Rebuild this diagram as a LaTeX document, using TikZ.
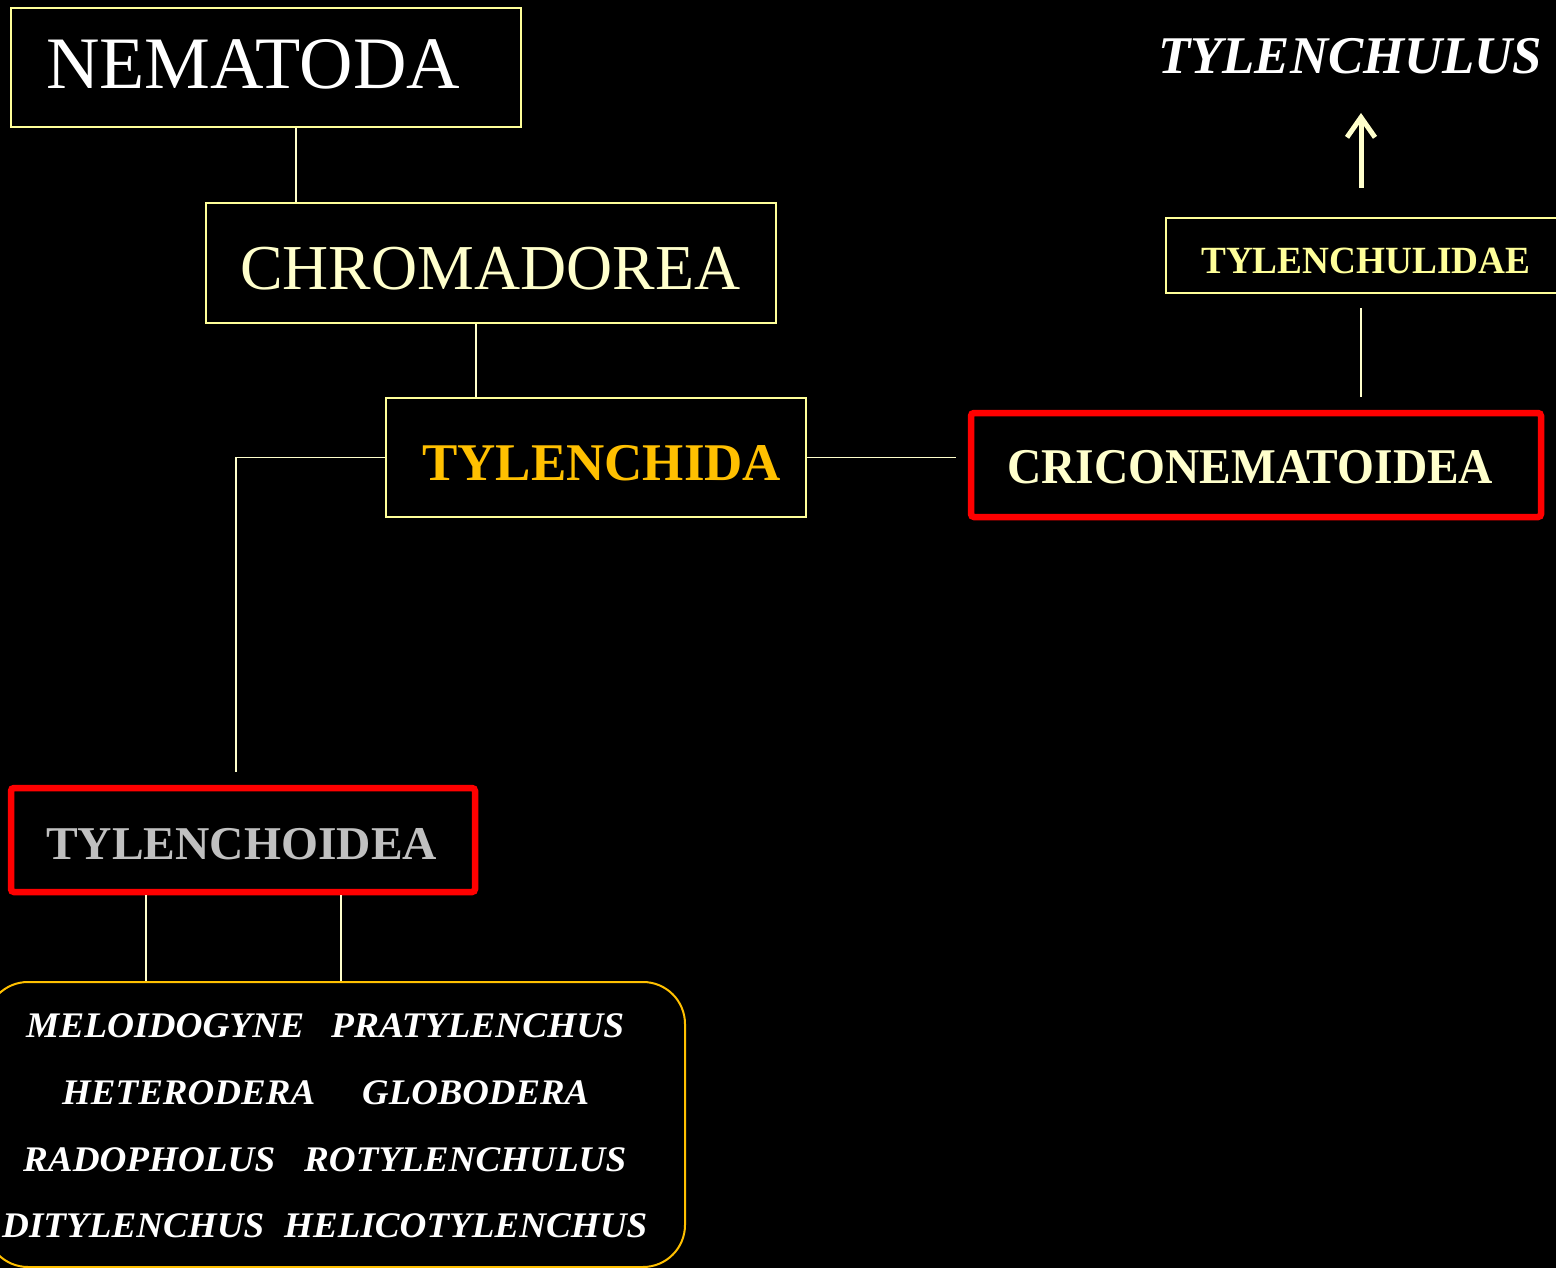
\documentclass[tikz,border=0pt]{standalone}
\usepackage{fontspec}
\setmainfont{Liberation Serif}
\usetikzlibrary{arrows.meta}
\definecolor{paley}{HTML}{FFFF99}
\definecolor{cream}{HTML}{FFFFCC}
\definecolor{gold}{HTML}{FFC000}
\definecolor{silver}{HTML}{C0C0C0}
\newcommand{\fw}[2]{\resizebox{#1pt}{\height}{#2}}
\begin{document}
\begin{tikzpicture}[x=1pt,y=-1pt,
  box/.style={draw=paley,line width=2pt,inner sep=0pt},
  redbox/.style={draw=red,line width=6.5pt,rounded corners=3pt,inner sep=0pt},
  lbl/.style={inner sep=0pt,anchor=base west},
  conn/.style={draw=cream,line width=1.8pt},
  genus/.style={lbl,text=white,font=\fontsize{36}{40}\selectfont\bfseries\itshape}]
\fill[black] (0,0) rectangle (1556,1268);
\useasboundingbox (0,0) rectangle (1556,1268);

% boxes
\node[box,minimum width=510pt,minimum height=119pt] (nem) at (266,67.5) {};
\node[box,minimum width=570pt,minimum height=120pt] (chr) at (491,263) {};
\node[box,minimum width=420pt,minimum height=119pt] (tyl) at (596,457.5) {};
\node[redbox,minimum width=570pt,minimum height=104pt] (cri) at (1256,465) {};
\node[box,minimum width=396pt,minimum height=75pt] (tul) at (1364,255.5) {};
\node[redbox,minimum width=464pt,minimum height=104pt] (tcd) at (243,840) {};
\node[draw=gold,line width=2pt,rounded corners=42pt,inner sep=0pt,
      minimum width=699pt,minimum height=285pt] (gen) at (335.5,1124.5) {};

% labels
\node[lbl,text=white,font=\fontsize{74}{80}\selectfont] (nemt) at (46,89) {\fw{414}{NEMATODA}};
\node[lbl,text=cream,font=\fontsize{64}{70}\selectfont] (chrt) at (240,289) {\fw{500}{CHROMADOREA}};
\node[lbl,text=gold,font=\fontsize{53}{60}\selectfont\bfseries] (tylt) at (422,480) {\fw{359}{TYLENCHIDA}};
\node[lbl,text=cream,font=\fontsize{50}{56}\selectfont\bfseries] (crit) at (1007,483) {\fw{486}{CRICONEMATOIDEA}};
\node[lbl,text=paley,font=\fontsize{38.5}{44}\selectfont\bfseries] (tult) at (1201,274) {\fw{329}{TYLENCHULIDAE}};
\node[lbl,text=white,font=\fontsize{53}{60}\selectfont\bfseries\itshape] (tus) at (1158,74) {\fw{384}{TYLENCHULUS}};
\node[lbl,text=silver,font=\fontsize{47}{52}\selectfont\bfseries] (tcdt) at (46,859) {\fw{391}{TYLENCHOIDEA}};

% genera
\node[genus] (g1) at (26,1037) {\fw{278}{MELOIDOGYNE}};
\node[genus] (g2) at (331,1037) {\fw{293}{PRATYLENCHUS}};
\node[genus] (g3) at (62,1104) {\fw{253}{HETERODERA}};
\node[genus] (g4) at (362,1104) {\fw{227}{GLOBODERA}};
\node[genus] (g5) at (23,1171) {\fw{252}{RADOPHOLUS}};
\node[genus] (g6) at (304,1171) {\fw{322}{ROTYLENCHULUS}};
\node[genus] (g7) at (2,1237) {\fw{262}{DITYLENCHUS}};
\node[genus] (g8) at (284,1237) {\fw{363}{HELICOTYLENCHUS}};

% helper coordinates
\coordinate (x1) at (296,0);
\coordinate (x2) at (476,0);
\coordinate (lc) at (236,772);
\coordinate (rc) at (956,0);
\coordinate (u1) at (1361,308);
\coordinate (u2) at (1361,397);
\coordinate (a1) at (1361,188);
\coordinate (a2) at (1361,113);
\coordinate (d1) at (146,0);
\coordinate (d2) at (341,0);

% connectors
\draw[conn] (nem.south -| x1) -- (chr.north -| x1);
\draw[conn] (chr.south -| x2) -- (tyl.north -| x2);
\draw[conn] (tyl.west) -| (lc);
\draw[conn] (tyl.east) -- (tyl.east -| rc);
\draw[conn] (u2) -- (u1);
\draw[draw=cream,line width=5pt,-{Straight Barb[length=20pt,width=28pt]}] (a1) -- (a2);
\draw[conn] (tcd.south -| d1) -- (gen.north -| d1);
\draw[conn] (tcd.south -| d2) -- (gen.north -| d2);
\end{tikzpicture}
\end{document}
